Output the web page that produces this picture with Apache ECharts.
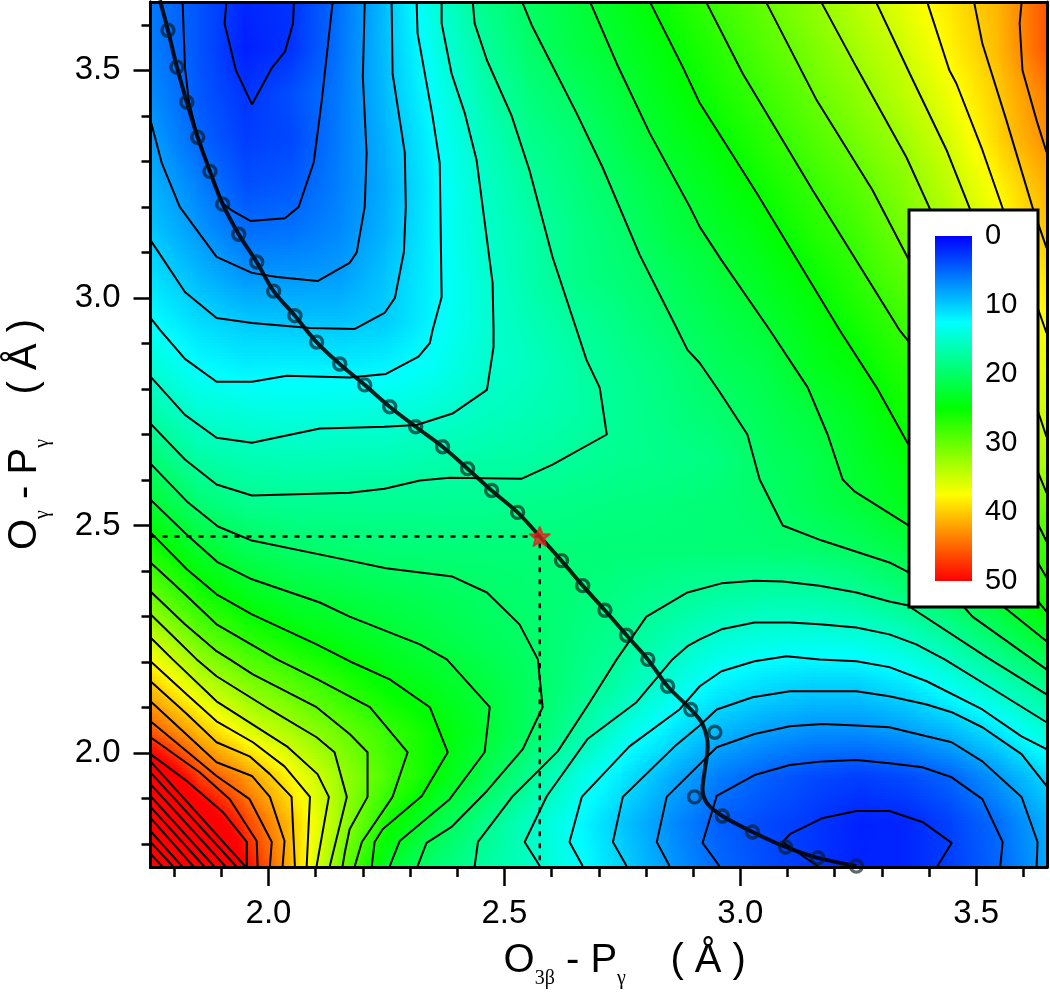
<!DOCTYPE html>
<html><head><meta charset="utf-8">
<style>html,body{margin:0;padding:0;background:#fff}#c{width:1050px;height:994px}</style>
<script src="https://cdn.jsdelivr.net/npm/echarts@6/dist/echarts.min.js"></script>
</head><body><div id="c"></div>
<script>
// grid nodes of the energy surface
const nodeX=[1.75,1.85,1.95,2.05,2.15,2.25,2.35,2.45,2.55,2.65,2.75,2.85,2.95,3.05,3.15,3.25,3.35,3.45,3.55,3.65];
const nodeY=[1.75,1.85,1.95,2.05,2.15,2.25,2.35,2.45,2.55,2.65,2.75,2.85,2.95,3.05,3.15,3.25,3.35,3.45,3.55,3.65];
// energy values, one array per row of nodeY
const r175=[72,61.4,50.5,40.6,30.8,22.9,19.3,17.3,15.5,13,10.3,7.5,5.2,3.8,2.6,1.7,1.8,3.1,5,8.2];
const r185=[65,54.2,47.2,40.2,32.8,26,21.8,18.5,15.5,12.6,9.7,7,4.7,3.6,2.7,1.6,1.8,3.3,5.4,8.6];
const r195=[55.5,47.2,42.8,37.5,32.7,28.6,25.1,21.5,18,14.2,11.4,8.6,6.2,4.7,3.6,3,3.6,5,7.6,10.6];
const r205=[46,41,36.3,33.2,30.3,27.7,25.3,22.9,20.3,17.3,14,11.5,9.1,7.8,7,6.9,7.7,9.2,11.4,14.6];
const r215=[40.5,35.1,31.6,29.3,27,24.8,23.5,22.1,20.4,18.5,16.5,14.1,12,10.9,10.2,10.2,11.3,13.4,15.7,18.2];
const r225=[35.2,30.4,27.3,25.4,24,22.9,21.8,20.8,20,18.8,17.7,16.2,14.5,13.8,13.6,13.9,15.1,17.2,19.8,22.7];
const r235=[30,26.2,23.9,22.4,21.8,21.2,20.7,20.1,19.6,19.1,18.5,17.8,17.2,16.8,16.8,17.5,19,20.7,23.3,26.5];
const r245=[26.2,23,21,19.9,19.6,19.3,19.2,19.2,19.2,19.2,19.2,19.2,19.3,19.4,19.7,20.4,21.7,23.2,25.4,28];
const r255=[22.7,19.5,18.1,17.9,17.9,17.9,17.9,17.9,18.2,18.5,18.8,19,19.3,19.8,21,22.2,23.8,25,27.3,30.8];
const r265=[19.5,17,16.3,16,16.1,16.2,16.5,16.8,17,17.5,18,18.3,18.7,20.2,21.2,23,24.6,26.5,29.6,34.1];
const r275=[16.8,14.7,14.2,13.9,14.1,14.2,14.7,15.5,16.1,16.8,17.8,18.7,19.6,20.8,22.1,23.7,25.9,27.7,31.4,35.6];
const r285=[14.5,12.6,11.8,12,11.8,12.1,13,14.8,15.5,16.8,18,19,20.5,21.4,23.5,24.8,26.7,29.6,33,36.7];
const r295=[12.6,10.8,9.9,9.6,9.6,10.1,12.2,14.4,16,17.4,18.6,19.9,21.2,22.5,24.3,26,28,30.7,34.4,37.7];
const r305=[11.1,9.1,7.4,7.5,7.7,9.7,12.1,14.5,16.5,18.4,19.3,20.6,22.1,23.5,25.2,27.3,29.4,32.2,35.4,38.8];
const r315=[9.8,7.5,5.4,5.6,6.7,8.9,12.1,14.8,16.6,18.4,19.8,21.6,23,24.5,26.6,28.2,30.8,33.7,36.9,40.5];
const r325=[8.8,6.4,3.9,4.4,6.3,8.6,12,15,17.2,18.9,20.5,22.2,23.9,25.7,27.6,29.4,31.7,34.6,38,41.5];
const r335=[7.9,5,3,3.5,6.1,8.9,12.3,15.5,18,19.4,21.4,23.3,24.9,26.9,28.8,30.8,32.9,35.8,39.7,43.1];
const r345=[6.9,4.4,2.5,3.9,6,9.3,12.9,16.3,18.8,20.4,22.2,24.2,26,27.9,30,32,34.3,37,40.2,44];
const r355=[6.2,4.2,1.5,2.5,5.7,9.5,13.5,17,19.8,21.6,23,24.9,26.9,29,31,33.1,35.3,38.2,41,46];
const r365=[6,4.2,1.8,2.5,5.5,9.5,14.2,18,20.2,22,23.8,25.8,27.9,29.9,32,34.1,36.4,38.8,41.3,46];
const energyRows=[r175,r185,r195,r205,r215,r225,r235,r245,r255,r265,r275,r285,r295,r305,r315,r325,r335,r345,r355,r365];

// contour lines (every 2.5), in axis units
const c2_5a=[[1.911,3.65],[1.907,3.603],[1.931,3.5],[1.965,3.425],[2.007,3.505],[2.035,3.541],[2.052,3.603],[2.054,3.65]];
const c2_5b=[[3.164,1.752],[3.09,1.805],[3.105,1.822],[3.173,1.857],[3.246,1.873],[3.316,1.873],[3.386,1.849],[3.448,1.803],[3.418,1.752]];
const c5a=[[1.818,3.65],[1.823,3.507],[1.831,3.434],[1.85,3.353],[1.876,3.276],[1.903,3.208],[1.924,3.191],[1.962,3.169],[2.035,3.175],[2.064,3.2],[2.096,3.298],[2.113,3.434],[2.136,3.65]];
const c5b=[[2.956,1.752],[2.92,1.803],[2.95,1.906],[3.03,1.952],[3.105,1.974],[3.174,1.982],[3.246,1.985],[3.316,1.978],[3.386,1.969],[3.448,1.947],[3.513,1.899],[3.556,1.805],[3.551,1.752]];
const c7_5a=[[1.75,3.39],[1.774,3.296],[1.812,3.2],[1.89,3.09],[1.965,3.055],[2.018,3.046],[2.104,3.037],[2.172,3.077],[2.187,3.1],[2.204,3.2],[2.208,3.318],[2.2,3.485],[2.204,3.65]];
const c7_5b=[[2.85,1.752],[2.823,1.805],[2.844,1.904],[2.914,1.976],[2.95,2.013],[3.03,2.042],[3.105,2.059],[3.174,2.064],[3.246,2.061],[3.316,2.057],[3.395,2.037],[3.448,2.024],[3.513,1.982],[3.596,1.904],[3.63,1.805],[3.628,1.752]];
const c10a=[[1.75,3.127],[1.823,3.013],[1.89,2.956],[1.965,2.945],[2.088,2.934],[2.183,2.932],[2.246,2.967],[2.268,3.0],[2.287,3.101],[2.291,3.2],[2.289,3.318],[2.263,3.493],[2.261,3.65]];
const c10b=[[2.759,1.752],[2.73,1.805],[2.751,1.904],[2.861,2.015],[2.914,2.061],[2.95,2.096],[3.026,2.123],[3.105,2.136],[3.174,2.136],[3.246,2.136],[3.316,2.125],[3.395,2.107],[3.448,2.09],[3.513,2.057],[3.596,1.998],[3.649,1.928]];
const c12_5a=[[1.75,2.956],[1.77,2.93],[1.823,2.866],[1.89,2.816],[1.965,2.816],[2.039,2.829],[2.172,2.825],[2.249,2.833],[2.318,2.871],[2.342,2.901],[2.348,2.93],[2.367,3.002],[2.363,3.296],[2.348,3.397],[2.316,3.581],[2.314,3.65]];
const c12_5b=[[2.666,1.752],[2.638,1.805],[2.664,1.904],[2.765,2.015],[2.871,2.096],[2.914,2.147],[2.96,2.18],[3.03,2.202],[3.098,2.213],[3.168,2.206],[3.246,2.202],[3.316,2.189],[3.395,2.158],[3.513,2.096],[3.596,2.037],[3.649,2.009]];
const c15a=[[1.75,2.827],[1.823,2.743],[1.89,2.693],[1.965,2.682],[2.109,2.713],[2.172,2.715],[2.246,2.717],[2.314,2.721],[2.39,2.746],[2.463,2.798],[2.477,2.892],[2.477,2.932],[2.475,3.033],[2.454,3.2],[2.441,3.303],[2.416,3.406],[2.388,3.493],[2.367,3.603],[2.367,3.65]];
const c15b=[[2.575,1.752],[2.543,1.805],[2.59,1.906],[2.676,2.031],[2.78,2.112],[2.856,2.206],[2.888,2.235],[2.914,2.25],[2.96,2.272],[3.03,2.287],[3.105,2.287],[3.168,2.283],[3.246,2.276],[3.316,2.261],[3.373,2.239],[3.433,2.206],[3.543,2.136],[3.649,2.068]];
const c17_5a=[[1.75,2.724],[1.823,2.645],[1.89,2.59],[1.965,2.566],[2.172,2.572],[2.246,2.581],[2.321,2.599],[2.384,2.605],[2.537,2.603],[2.602,2.634],[2.717,2.7],[2.702,2.803],[2.674,2.864],[2.653,2.93],[2.602,3.09],[2.553,3.281],[2.515,3.401],[2.463,3.522],[2.437,3.603],[2.433,3.65]];
const c17_5b=[[2.437,1.752],[2.444,1.805],[2.518,1.906],[2.613,2.004],[2.681,2.112],[2.738,2.206],[2.801,2.3],[2.888,2.353],[2.96,2.373],[3.03,2.379],[3.09,2.377],[3.168,2.368],[3.246,2.353],[3.316,2.333],[3.354,2.325],[3.522,2.211],[3.649,2.129]];
const c20a=[[2.539,3.647],[2.558,3.599],[2.653,3.406],[2.708,3.287],[2.787,3.094],[2.865,2.934],[2.888,2.886],[2.914,2.857],[2.956,2.794],[3.015,2.7],[3.041,2.601],[3.09,2.5],[3.173,2.467],[3.316,2.419],[3.354,2.399],[3.475,2.32],[3.492,2.3],[3.619,2.206],[3.649,2.184]];
const c20b=[[1.75,2.636],[1.827,2.553],[1.893,2.498],[1.965,2.467],[2.172,2.423],[2.249,2.406],[2.39,2.388],[2.463,2.353],[2.532,2.283],[2.571,2.206],[2.581,2.101],[2.539,2.009],[2.463,1.917],[2.388,1.838],[2.335,1.803],[2.316,1.752]];
const c22_5a=[[2.683,3.647],[2.738,3.515],[2.808,3.362],[2.893,3.2],[2.914,3.156],[2.96,3.083],[3.062,2.93],[3.143,2.803],[3.185,2.7],[3.217,2.601],[3.242,2.575],[3.354,2.502],[3.56,2.32],[3.649,2.246]];
const c22_5b=[[1.75,2.557],[1.827,2.48],[1.893,2.419],[1.965,2.382],[2.109,2.331],[2.172,2.3],[2.321,2.239],[2.378,2.206],[2.469,2.101],[2.458,2.002],[2.384,1.899],[2.278,1.807],[2.257,1.752]];
const c25a=[[2.81,3.647],[2.878,3.507],[2.914,3.428],[3.035,3.23],[3.21,2.93],[3.289,2.803],[3.354,2.682],[3.649,2.311]];
const c25b=[[1.75,2.485],[1.827,2.404],[1.89,2.349],[1.965,2.305],[2.102,2.239],[2.172,2.202],[2.257,2.162],[2.342,2.101],[2.38,2.002],[2.325,1.906],[2.242,1.833],[2.225,1.805],[2.219,1.752]];
const c27_5a=[[2.929,3.647],[3.005,3.493],[3.153,3.237],[3.337,2.93],[3.354,2.908],[3.649,2.386]];
const c27_5b=[[1.75,2.419],[1.823,2.349],[1.89,2.283],[2.018,2.206],[2.104,2.162],[2.172,2.125],[2.215,2.101],[2.295,2.002],[2.263,1.904],[2.198,1.805],[2.183,1.752]];
const c30a=[[3.056,3.647],[3.162,3.434],[3.28,3.237],[3.354,3.09],[3.649,2.465]];
const c30b=[[1.75,2.355],[1.823,2.283],[1.89,2.224],[1.918,2.206],[1.967,2.173],[2.102,2.101],[2.172,2.042],[2.21,2.002],[2.21,1.904],[2.172,1.833],[2.162,1.783],[2.157,1.752]];
const c32_5a=[[3.173,3.647],[3.246,3.507],[3.352,3.309],[3.4,3.2],[3.649,2.572]];
const c32_5b=[[1.75,2.305],[1.848,2.206],[1.89,2.169],[2.003,2.096],[2.102,2.035],[2.14,2.002],[2.166,1.904],[2.13,1.752]];
const c35a=[[3.289,3.647],[3.359,3.493],[3.437,3.325],[3.486,3.197],[3.649,2.695]];
const c35b=[[1.75,2.254],[1.797,2.206],[1.89,2.114],[2.039,2.015],[2.104,1.954],[2.128,1.904],[2.102,1.752]];
const c37_5a=[[3.397,3.647],[3.443,3.5],[3.458,3.471],[3.513,3.325],[3.556,3.197],[3.649,2.923]];
const c37_5b=[[1.75,2.202],[1.827,2.129],[1.89,2.07],[1.967,2.024],[2.034,1.971],[2.088,1.904],[2.081,1.752]];
const c40a=[[3.496,3.647],[3.513,3.559],[3.564,3.39],[3.619,3.2],[3.649,3.11]];
const c40b=[[1.75,2.158],[1.827,2.086],[1.89,2.024],[1.96,1.993],[2.003,1.954],[2.049,1.904],[2.056,1.752]];
const c42_5a=[[3.596,3.647],[3.592,3.603],[3.598,3.5],[3.628,3.39],[3.649,3.32]];
const c42_5b=[[1.75,2.114],[1.89,1.98],[1.965,1.95],[2.003,1.904],[2.034,1.807],[2.03,1.752]];
const c45=[[1.75,2.07],[1.89,1.95],[1.96,1.899],[2.007,1.805],[2.003,1.752]];
const c47_5=[[1.75,2.035],[1.854,1.958],[1.918,1.899],[1.975,1.807],[1.977,1.752]];
const c50=[[1.75,1.998],[1.827,1.939],[1.903,1.871],[1.954,1.805],[1.954,1.752]];
const c52_5=[[1.75,1.982],[1.952,1.75]];
const c55=[[1.75,1.958],[1.933,1.75]];
const c57_5=[[1.75,1.932],[1.91,1.75]];
const c60=[[1.75,1.906],[1.886,1.75]];
const c62_5=[[1.75,1.882],[1.865,1.75]];
const c65=[[1.75,1.858],[1.842,1.75]];
const c67_5=[[1.75,1.829],[1.818,1.75]];
const c70=[[1.75,1.805],[1.799,1.75]];
const c72_5=[[1.75,1.779],[1.776,1.75]];
const contourLines=[c2_5a,c2_5b,c5a,c5b,c7_5a,c7_5b,c10a,c10b,c12_5a,c12_5b,c15a,c15b,c17_5a,c17_5b,c20a,c20b,c22_5a,c22_5b,c25a,c25b,c27_5a,c27_5b,c30a,c30b,c32_5a,c32_5b,c35a,c35b,c37_5a,c37_5b,c40a,c40b,c42_5a,c42_5b,c45,c47_5,c50,c52_5,c55,c57_5,c60,c62_5,c65,c67_5,c70,c72_5];

// reaction path
const pathLine=[[1.77,3.654],[1.787,3.588],[1.806,3.507],[1.827,3.43],[1.85,3.353],[1.876,3.278],[1.903,3.206],[1.937,3.14],[1.975,3.079],[2.011,3.015],[2.056,2.961],[2.102,2.903],[2.151,2.855],[2.204,2.809],[2.257,2.761],[2.312,2.717],[2.369,2.673],[2.422,2.625],[2.473,2.577],[2.528,2.529],[2.575,2.476],[2.621,2.423],[2.666,2.368],[2.713,2.314],[2.759,2.259],[2.804,2.206],[2.846,2.147],[2.895,2.096],[2.92,2.064],[2.931,2.015],[2.925,1.965],[2.92,1.921],[2.931,1.888],[2.962,1.862],[3.026,1.827],[3.096,1.794],[3.164,1.77],[3.246,1.752]];
const pathRings=[[1.787,3.588],[1.806,3.507],[1.827,3.43],[1.85,3.353],[1.876,3.278],[1.903,3.206],[1.937,3.14],[1.975,3.079],[2.011,3.015],[2.056,2.961],[2.102,2.903],[2.151,2.855],[2.204,2.809],[2.257,2.761],[2.312,2.717],[2.369,2.673],[2.422,2.625],[2.473,2.577],[2.528,2.529],[2.621,2.423],[2.666,2.368],[2.713,2.314],[2.759,2.259],[2.804,2.206],[2.846,2.147],[2.895,2.096],[2.946,2.046],[2.903,1.904],[2.962,1.862],[3.026,1.827],[3.096,1.794],[3.164,1.77],[3.246,1.752]];
const transitionState=[2.575,2.476];
const guideLine=[[1.75,2.476],[2.575,2.476],[2.575,1.75]];

const xMajor=[2,2.5,3,3.5];
const yMajor=[2,2.5,3,3.5];
const xMinor=[1.8,1.9,2.1,2.2,2.3,2.4,2.6,2.7,2.8,2.9,3.1,3.2,3.3,3.4,3.6];
const yMinor=[1.8,1.9,2.1,2.2,2.3,2.4,2.6,2.7,2.8,2.9,3.1,3.2,3.3,3.4,3.6];
const legendTicks=[0,10,20,30,40,50];
const ramp=[[0,0,255],[0,255,255],[0,255,0],[255,255,0],[255,0,0]];
const rampCss=['#0000ff','#00ffff','#00ff00','#ffff00','#ff0000'];

function colorOf(v){
  const t=Math.max(0,Math.min(1,v/50))*4, i=Math.min(3,Math.floor(t)), f=t-i;
  const a=ramp[i],b=ramp[i+1];
  return 'rgb('+Math.round(a[0]+(b[0]-a[0])*f)+','+Math.round(a[1]+(b[1]-a[1])*f)+','+Math.round(a[2]+(b[2]-a[2])*f)+')';
}
const cells=[];
for(let j=0;j<nodeY.length-1;j++)for(let i=0;i<nodeX.length-1;i++){
  cells.push([nodeX[i],nodeY[j],nodeX[i+1],nodeY[j+1],energyRows[j][i],energyRows[j][i+1],energyRows[j+1][i],energyRows[j+1][i+1]]);
}
const STRIPS=15;
function renderCell(params,api){
  const a=api.coord([api.value(0),api.value(1)]), b=api.coord([api.value(2),api.value(3)]);
  const v00=api.value(4),v10=api.value(5),v01=api.value(6),v11=api.value(7);
  const xL=Math.floor(a[0]), w=Math.ceil(b[0])-xL+1, children=[];
  for(let s=0;s<STRIPS;s++){
    const t=(s+.5)/STRIPS, vL=v00+(v01-v00)*t, vR=v10+(v11-v10)*t;
    const yB=a[1]+(b[1]-a[1])*s/STRIPS, yT=a[1]+(b[1]-a[1])*(s+1)/STRIPS;
    const top=Math.floor(yT), h=Math.ceil(yB)-top+1, stops=[];
    for(let k=0;k<=6;k++){stops.push({offset:k/6,color:colorOf(vL+(vR-vL)*k/6)});}
    children.push({type:'rect',shape:{x:xL,y:top,width:w,height:h},style:{fill:{type:'linear',x:0,y:0,x2:1,y2:0,colorStops:stops}}});
  }
  return {type:'group',children};
}
function renderLegendBar(params,api){
  const a=api.coord([api.value(0),api.value(2)]), b=api.coord([api.value(1),api.value(3)]);
  return {type:'rect',shape:{x:a[0],y:a[1],width:b[0]-a[0],height:b[1]-a[1]},
    style:{fill:{type:'linear',x:0,y:0,x2:0,y2:1,colorStops:rampCss.map(function(c,i){return {offset:i/(rampCss.length-1),color:c};})}}};
}
const FONT='"Liberation Sans",Arial,sans-serif';
const titleRich={
  t:{fontFamily:FONT,fontSize:40,color:'#000',lineHeight:44,verticalAlign:'top'},
  s:{fontFamily:'"Liberation Serif",serif',fontSize:20,color:'#000',verticalAlign:'bottom',padding:[28,0,0,0]}
};
const series=[{
  type:'custom',name:'field',data:cells,renderItem:renderCell,clip:true,silent:true,z:1,progressive:0,
  encode:{x:[0,2],y:[1,3]},coordinateSystem:'cartesian2d',xAxisIndex:0,yAxisIndex:0,dimensions:['x0','y0','x1','y1','v00','v10','v01','v11']
}];
contourLines.forEach(function(c){series.push({type:'line',data:c,showSymbol:false,silent:true,z:3,clip:true,lineStyle:{color:'#000',width:2},xAxisIndex:0,yAxisIndex:0});});
series.push({type:'line',name:'guide',data:guideLine,showSymbol:false,silent:true,z:4,lineStyle:{color:'#000',width:2.4,type:[5,7]}});
series.push({type:'line',name:'path',data:pathLine,smooth:0.35,showSymbol:false,silent:true,z:5,clip:true,lineStyle:{color:'#000',width:4,opacity:.88}});
series.push({type:'scatter',name:'rings',data:pathRings,symbol:'circle',symbolSize:12,silent:true,z:6,clip:true,itemStyle:{color:'rgba(0,0,0,0)',borderColor:'rgba(5,25,30,.82)',borderWidth:3.4}});
series.push({type:'scatter',name:'TS',data:[transitionState],symbol:'path://M0,-10L2.6,-3.4L9.5,-3.1L4.1,1.3L5.9,8.1L0,4.3L-5.9,8.1L-4.1,1.3L-9.5,-3.1L-2.6,-3.4Z',symbolSize:20,symbolKeepAspect:true,silent:true,z:7,itemStyle:{color:'rgba(228,32,28,.94)',borderColor:'rgba(228,32,28,.94)',borderWidth:2,borderJoin:'round'}});
series.push({type:'custom',name:'legend bar',data:[[0,1,0,50]],renderItem:renderLegendBar,silent:true,z:25,xAxisIndex:3,yAxisIndex:3,
  coordinateSystem:'cartesian2d',encode:{x:[0,1],y:[2,3]}});

const option={
  animation:false,backgroundColor:'#fff',
  grid:[{left:150.5,right:3,top:2,height:865,outerBoundsMode:'none'},{left:935,top:236,width:37,height:345,outerBoundsMode:'none'}],
  xAxis:[
    {type:'value',gridIndex:0,min:1.75,max:3.65,z:10,splitLine:{show:false},
     axisLine:{onZero:false,lineStyle:{color:'#000',width:3}},
     axisTick:{show:true,customValues:xMajor,length:19,lineStyle:{color:'#000',width:2.5}},
     axisLabel:{customValues:xMajor,formatter:v=>v.toFixed(1),margin:30,fontFamily:FONT,fontSize:33,color:'#000',showMinLabel:true,showMaxLabel:true},
     name:'{t|O}{s|3β}{t| - P}{s|γ}{t|    ( Å )}',nameLocation:'middle',nameGap:74,nameTextStyle:{rich:titleRich,padding:[0,0,0,52]}},
    {type:'value',gridIndex:0,min:1.75,max:3.65,z:10,position:'bottom',splitLine:{show:false},
     axisLine:{onZero:false,lineStyle:{color:'#000',width:3}},
     axisTick:{show:true,customValues:xMinor,length:10,lineStyle:{color:'#000',width:2.5}},axisLabel:{show:false}},
    {type:'value',gridIndex:0,min:1.75,max:3.65,z:10,position:'top',splitLine:{show:false},
     axisLine:{onZero:false,lineStyle:{color:'#000',width:3}},axisTick:{show:false},axisLabel:{show:false}},
    {type:'value',gridIndex:1,min:0,max:1,show:false}
  ],
  yAxis:[
    {type:'value',gridIndex:0,min:1.75,max:3.65,z:10,splitLine:{show:false},
     axisLine:{onZero:false,lineStyle:{color:'#000',width:3}},
     axisTick:{show:true,customValues:yMajor,length:17,lineStyle:{color:'#000',width:2.5}},
     axisLabel:{customValues:yMajor,formatter:v=>v.toFixed(1),margin:30,fontFamily:FONT,fontSize:33,color:'#000'},
     name:'{t|O}{s|γ}{t| - P}{s|γ}{t|    ( Å )}',nameLocation:'middle',nameGap:98,nameRotate:90,nameTextStyle:{rich:titleRich}},
    {type:'value',gridIndex:0,min:1.75,max:3.65,z:10,position:'left',splitLine:{show:false},
     axisLine:{onZero:false,lineStyle:{color:'#000',width:3}},
     axisTick:{show:true,customValues:yMinor,length:9,lineStyle:{color:'#000',width:2.5}},axisLabel:{show:false}},
    {type:'value',gridIndex:0,min:1.75,max:3.65,z:10,position:'right',splitLine:{show:false},
     axisLine:{onZero:false,lineStyle:{color:'#000',width:3}},axisTick:{show:false},axisLabel:{show:false}},
    {type:'value',gridIndex:1,min:0,max:50,inverse:true,position:'right',z:30,splitLine:{show:false},
     axisLine:{show:false},axisTick:{show:false},
     axisLabel:{customValues:legendTicks,margin:13,fontFamily:FONT,fontSize:29,color:'#000',align:'left',padding:[7,0,0,0],formatter:v=>String(v)}}
  ],
  graphic:{elements:[{type:'rect',silent:true,z:20,shape:{x:909,y:210,width:129,height:397},style:{fill:'#fff',stroke:'#000',lineWidth:3}}]},
  series:series
};
const chart=echarts.init(document.getElementById('c'),null,{renderer:'canvas'});
chart.setOption(option);
</script></body></html>
